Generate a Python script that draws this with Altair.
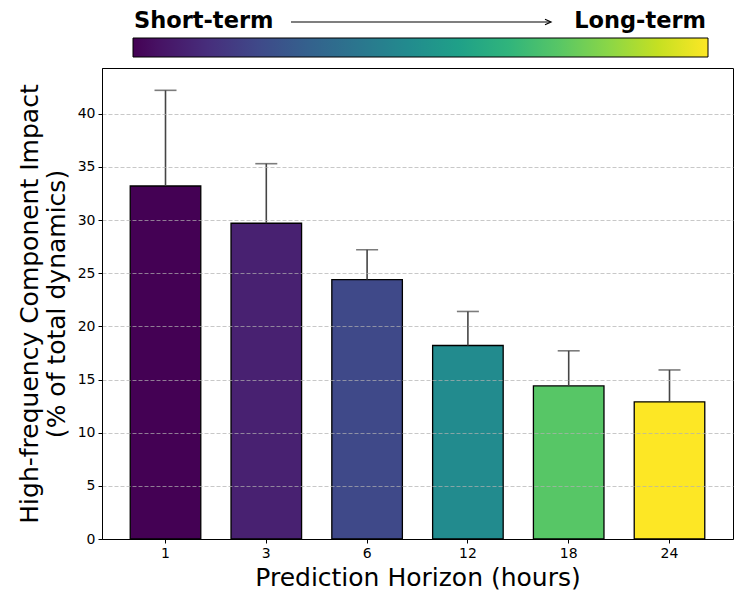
import altair as alt
import pandas as pd

# Prediction horizons (hours) and the share of high-frequency dynamics
hours = [1, 3, 6, 12, 18, 24]
impact = [33.2, 29.7, 24.4, 18.2, 14.4, 12.9]
impact_err = [9.0, 5.6, 2.8, 3.2, 3.3, 3.0]

df = pd.DataFrame({
    "label": [str(h) for h in hours],
    "hours": hours,
    "impact": impact,
    "upper": [v + e for v, e in zip(impact, impact_err)],
})

FONT = "DejaVu Sans"
W, H = 631, 471
order = [str(h) for h in hours]

x_enc = alt.X(
    "label:N",
    sort=order,
    scale=alt.Scale(paddingInner=0.3, paddingOuter=0.28),
    axis=alt.Axis(
        title="Prediction Horizon (hours)",
        labelAngle=0,
        labelFontSize=14,
        labelColor="black",
        titleFontSize=25,
        titleFontWeight="normal",
        titleColor="black",
        titlePadding=5,
        tickSize=4,
        tickColor="black",
        domainColor="black",
        labelPadding=3,
        zindex=2,
    ),
)
y_scale = alt.Scale(domain=[0, 44.3], nice=False, zero=True)

base = alt.Chart(df)

bars = base.mark_bar(stroke="black", strokeWidth=1.3).encode(
    x=x_enc,
    y=alt.Y(
        "impact:Q",
        scale=y_scale,
        axis=alt.Axis(
            title=["High-frequency Component Impact", "(% of total dynamics)"],
            values=[0, 5, 10, 15, 20, 25, 30, 35, 40],
            labelFontSize=14,
            labelColor="black",
            titleFontSize=25,
            titleFontWeight="normal",
            titleColor="black",
            titleLineHeight=27,
            titlePadding=8,
            tickSize=4,
            tickColor="black",
            domainColor="black",
            labelPadding=3,
            grid=True,
            gridColor="#b0b0b0",
            gridOpacity=0.7,
            gridDash=[4, 2],
            gridWidth=1,
            zindex=1,
        ),
    ),
    color=alt.Color(
        "hours:Q",
        scale=alt.Scale(scheme="viridis", domain=[1, 24]),
        legend=alt.Legend(
            orient="none",
            legendX=31,
            legendY=-30,
            direction="horizontal",
            gradientLength=575,
            gradientThickness=19,
            gradientStrokeColor="black",
            gradientStrokeWidth=1,
            labelOpacity=0,
            title=None,
            padding=0,
        ),
    ),
)

err_rule = base.mark_rule(color="#454545", strokeWidth=1.6).encode(
    x=alt.X("label:N", sort=order),
    y=alt.Y("impact:Q", scale=y_scale),
    y2="upper:Q",
)

err_cap = base.mark_tick(color="#454545", thickness=1.6, size=22, orient="horizontal").encode(
    x=alt.X("label:N", sort=order),
    y=alt.Y("upper:Q", scale=y_scale),
)

short_txt = alt.Chart(pd.DataFrame({"t": ["Short-term"]})).mark_text(
    font=FONT, fontSize=22.5, fontWeight="bold", align="left", baseline="alphabetic", color="black"
).encode(text="t:N", x=alt.value(32), y=alt.value(-40))

long_txt = alt.Chart(pd.DataFrame({"t": ["Long-term"]})).mark_text(
    font=FONT, fontSize=22.5, fontWeight="bold", align="right", baseline="alphabetic", color="black"
).encode(text="t:N", x=alt.value(604), y=alt.value(-40))

arrow_line = alt.Chart(pd.DataFrame({"a": [0]})).mark_rule(color="black", strokeWidth=1.2).encode(
    x=alt.value(189), x2=alt.value(448), y=alt.value(-46)
)

arrow_head = alt.Chart(pd.DataFrame({"a": [0]})).mark_point(
    shape="M-2,-0.9L0,0L-2,0.9", filled=False, stroke="black", strokeWidth=1.2, size=36, opacity=1
).encode(x=alt.value(449), y=alt.value(-46))

chart = (
    alt.layer(bars, err_rule, err_cap, short_txt, long_txt, arrow_line, arrow_head)
    .properties(
        width=W,
        height=H,
        autosize=alt.AutoSizeParams(type="none"),
        padding={"left": 102, "top": 68, "right": 8, "bottom": 64},
        background="white",
    )
    .configure(font=FONT)
    .configure_view(stroke="black", strokeWidth=1)
)

chart.save("out.html", embed_options={"renderer": "svg", "actions": False})
